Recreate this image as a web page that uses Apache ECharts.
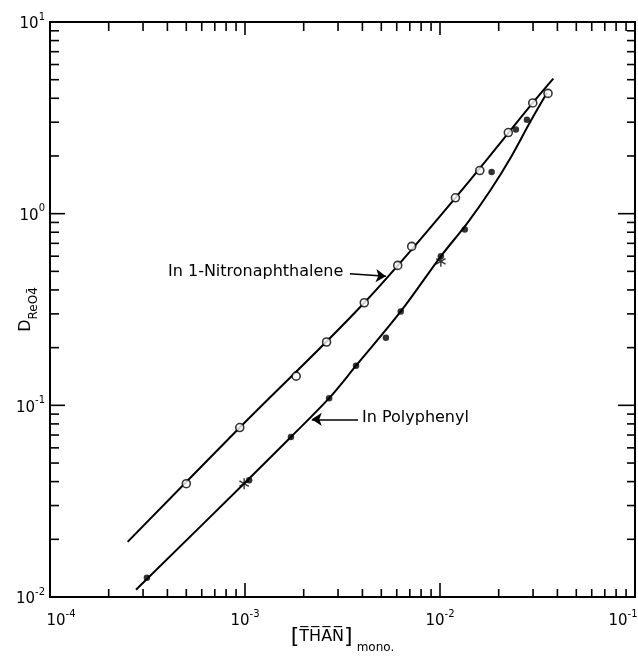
<!DOCTYPE html>
<html>
<head>
<meta charset="utf-8">
<script src="https://cdn.jsdelivr.net/npm/echarts@6/dist/echarts.min.js"></script>
<style>
html,body{margin:0;padding:0;background:#fff;}
#chart{width:638px;height:659px;}
</style>
</head>
<body>
<div id="chart"></div>
<script>
// ---- Data ----
// In 1-Nitronaphthalene (open circles)
const nitroX = [5.0e-4, 9.4e-4, 1.83e-3, 2.62e-3, 4.09e-3, 6.07e-3, 7.16e-3, 1.20e-2, 1.60e-2, 2.24e-2, 2.99e-2, 3.58e-2];
const nitroY = [0.039, 0.0766, 0.142, 0.214, 0.343, 0.537, 0.675, 1.21, 1.68, 2.65, 3.78, 4.24];
// In Polyphenyl (filled dots)
const polyX = [3.14e-4, 1.05e-3, 1.72e-3, 2.70e-3, 3.71e-3, 5.28e-3, 6.29e-3, 1.01e-2, 1.34e-2, 1.84e-2, 2.45e-2, 2.79e-2];
const polyY = [0.0126, 0.0407, 0.0684, 0.109, 0.161, 0.2255, 0.309, 0.599, 0.828, 1.65, 2.75, 3.09];
// asterisk points
const starX = [9.9e-4, 1.01e-2];
const starY = [0.039, 0.564];
// drawn curves
const curveNX = [2.50e-4, 9.4e-4, 4.09e-3, 1.20e-2, 2.99e-2, 3.81e-2];
const curveNY = [0.0194, 0.0766, 0.343, 1.21, 3.78, 5.06];
const curvePX = [2.76e-4, 1.02e-3, 1.72e-3, 2.70e-3, 3.71e-3, 6.29e-3, 1.01e-2, 1.39e-2, 1.81e-2, 2.29e-2, 2.89e-2, 3.54e-2];
const curvePY = [0.0109, 0.0403, 0.0684, 0.109, 0.161, 0.309, 0.599, 0.901, 1.32, 1.94, 2.99, 4.27];
// annotation arrows [startX, startY, endX, endY]
const arrowNitro = [3.45e-3, 0.486, 5.28e-3, 0.471];
const arrowPoly = [3.80e-3, 0.0845, 2.20e-3, 0.0845];
const labelNitro = 'In 1-Nitronaphthalene';
const labelPoly = 'In Polyphenyl';
// axes
const xDecades = [-4, -3, -2, -1];
const yDecades = [-2, -1, 0, 1];
const minorMult = [2, 3, 4, 5, 6, 7, 8, 9];

const FONT = 'DejaVu Sans';
const zip = (a, b) => a.map((v, i) => [v, b[i]]);

const xTicks = [];
xDecades.forEach((e, i) => {
  xTicks.push([Math.pow(10, e), 1, 1]);
  if (i < xDecades.length - 1) minorMult.forEach(m => xTicks.push([m * Math.pow(10, e), 1, 0]));
});
const yTicks = [];
yDecades.forEach((e, i) => {
  yTicks.push([1e-3, Math.pow(10, e), 1]);
  if (i < yDecades.length - 1) minorMult.forEach(m => yTicks.push([1e-3, m * Math.pow(10, e), 0]));
});

function lineEl(x1, y1, x2, y2) {
  return {type: 'line', shape: {x1, y1, x2, y2}, style: {stroke: '#000', lineWidth: 1.6}};
}

const supRich = {
  b: {fontSize: 15, fontFamily: FONT, color: '#000', lineHeight: 20, verticalAlign: 'bottom'},
  s: {fontSize: 10, fontFamily: FONT, color: '#000', lineHeight: 12, verticalAlign: 'top'},
  bf: {fontSize: 15, fontFamily: FONT, color: '#000', lineHeight: 20, verticalAlign: 'bottom', padding: [0, 0, 0, 22]},
  sl: {fontSize: 10, fontFamily: FONT, color: '#000', lineHeight: 12, verticalAlign: 'top', padding: [0, 24, 0, 0]}
};

function xLabel(v) {
  const e = Math.round(Math.log10(v));
  if (e === xDecades[0]) return '{bf|10}{s|' + e + '}';
  if (e === xDecades[xDecades.length - 1]) return '{b|10}{sl|' + e + '}';
  return '{b|10}{s|' + e + '}';
}

const chart = echarts.init(document.getElementById('chart'), null, {renderer: 'canvas'});
chart.setOption({
  backgroundColor: '#fff',
  animation: false,
  grid: {left: 50, right: 3, top: 22, bottom: 62, containLabel: false, outerBoundsMode: 'none',
    show: true, borderColor: '#000', borderWidth: 2, backgroundColor: 'transparent'},
  xAxis: {
    type: 'log', logBase: 10, min: 1e-4, max: 1e-1,
    axisLine: {show: false}, axisTick: {show: false}, splitLine: {show: false},
    axisLabel: {margin: 12, formatter: xLabel, rich: supRich},
    name: '{br|[}{ov|T\u0305H\u0305A\u0305N\u0305}{br|]}{sub|mono.}',
    nameLocation: 'middle', nameGap: 27, nameMoveOverlap: false,
    nameTextStyle: {
      rich: {
        br: {fontSize: 22, fontFamily: FONT, color: '#000', lineHeight: 26, verticalAlign: 'middle'},
        ov: {fontSize: 16, fontFamily: FONT, color: '#000', lineHeight: 26, verticalAlign: 'middle'},
        sub: {fontSize: 12, fontFamily: FONT, color: '#000', lineHeight: 14, verticalAlign: 'bottom', padding: [0, 0, -4, 4]}
      }
    }
  },
  yAxis: {
    type: 'log', logBase: 10, min: 1e-2, max: 10,
    axisLine: {show: false}, axisTick: {show: false}, splitLine: {show: false},
    axisLabel: {
      margin: 5,
      formatter: v => '{b|10}{s|' + Math.round(Math.log10(v)) + '}',
      rich: supRich
    },
    name: '{d|D}{s|ReO4\u0304}',
    nameLocation: 'middle', nameGap: 10, nameRotate: 90, nameMoveOverlap: false,
    nameTextStyle: {
      rich: {
        d: {fontSize: 16, fontFamily: FONT, color: '#000', lineHeight: 22, verticalAlign: 'top'},
        s: {fontSize: 12, fontFamily: FONT, color: '#000', lineHeight: 14, verticalAlign: 'bottom'}
      }
    }
  },
  series: [
    {
      type: 'custom', name: 'xticks', silent: true, data: xTicks, encode: {x: 0, y: 1}, z: 5,
      renderItem: (params, api) => {
        const cs = params.coordSys;
        const px = api.coord([api.value(0), 1])[0];
        const major = api.value(2) === 1;
        const lb = major ? 14 : 8, lt = major ? 13 : 9;
        const bot = cs.y + cs.height, top = cs.y;
        return {type: 'group', children: [lineEl(px, bot, px, bot - lb), lineEl(px, top, px, top + lt)]};
      }
    },
    {
      type: 'custom', name: 'yticks', silent: true, data: yTicks, encode: {x: 0, y: 1}, z: 5,
      renderItem: (params, api) => {
        const cs = params.coordSys;
        const py = api.coord([1e-3, api.value(1)])[1];
        const major = api.value(2) === 1;
        const ll = major ? 15 : 9, lr = major ? 17 : 8;
        const left = cs.x, right = cs.x + cs.width;
        return {type: 'group', children: [lineEl(left, py, left + ll, py), lineEl(right, py, right - lr, py)]};
      }
    },
    {
      type: 'line', name: 'Nitronaphthalene curve', data: zip(curveNX, curveNY), smooth: 0.35,
      showSymbol: false, symbol: 'none', lineStyle: {color: '#000', width: 2}, z: 3,
      markLine: {
        silent: true, symbol: ['none', 'arrow'], symbolSize: 10, label: {show: false},
        lineStyle: {color: '#000', width: 1.5, type: 'solid'},
        data: [[{coord: [arrowNitro[0], arrowNitro[1]]}, {coord: [arrowNitro[2], arrowNitro[3]]}]]
      }
    },
    {
      type: 'line', name: 'Polyphenyl curve', data: zip(curvePX, curvePY), smooth: 0.35,
      showSymbol: false, symbol: 'none', lineStyle: {color: '#000', width: 2}, z: 3,
      markLine: {
        silent: true, symbol: ['none', 'arrow'], symbolSize: 10, label: {show: false},
        lineStyle: {color: '#000', width: 1.5, type: 'solid'},
        data: [[{coord: [arrowPoly[0], arrowPoly[1]]}, {coord: [arrowPoly[2], arrowPoly[3]]}]]
      }
    },
    {
      type: 'scatter', name: 'In 1-Nitronaphthalene', data: zip(nitroX, nitroY), symbol: 'circle', symbolSize: 8,
      itemStyle: {color: '#fff', borderColor: '#000', borderWidth: 1.6}, z: 6
    },
    {
      type: 'scatter', name: 'In Polyphenyl', data: zip(polyX, polyY), symbol: 'circle', symbolSize: 6.5,
      itemStyle: {color: '#000'}, z: 6
    },
    {
      type: 'scatter', name: 'star', data: zip(starX, starY),
      symbol: 'path://M5,0 L5,10 M0.7,2.5 L9.3,7.5 M0.7,7.5 L9.3,2.5', symbolSize: 11, symbolKeepAspect: true,
      itemStyle: {color: 'rgba(0,0,0,0)', borderColor: '#000', borderWidth: 1.4}, z: 7
    }
  ],
  graphic: [
    {type: 'text', left: 168, top: 264, style: {text: labelNitro, font: '16px "DejaVu Sans"', fill: '#000'}},
    {type: 'text', left: 362, top: 410, style: {text: labelPoly, font: '16px "DejaVu Sans"', fill: '#000'}}
  ]
});
</script>
</body>
</html>
